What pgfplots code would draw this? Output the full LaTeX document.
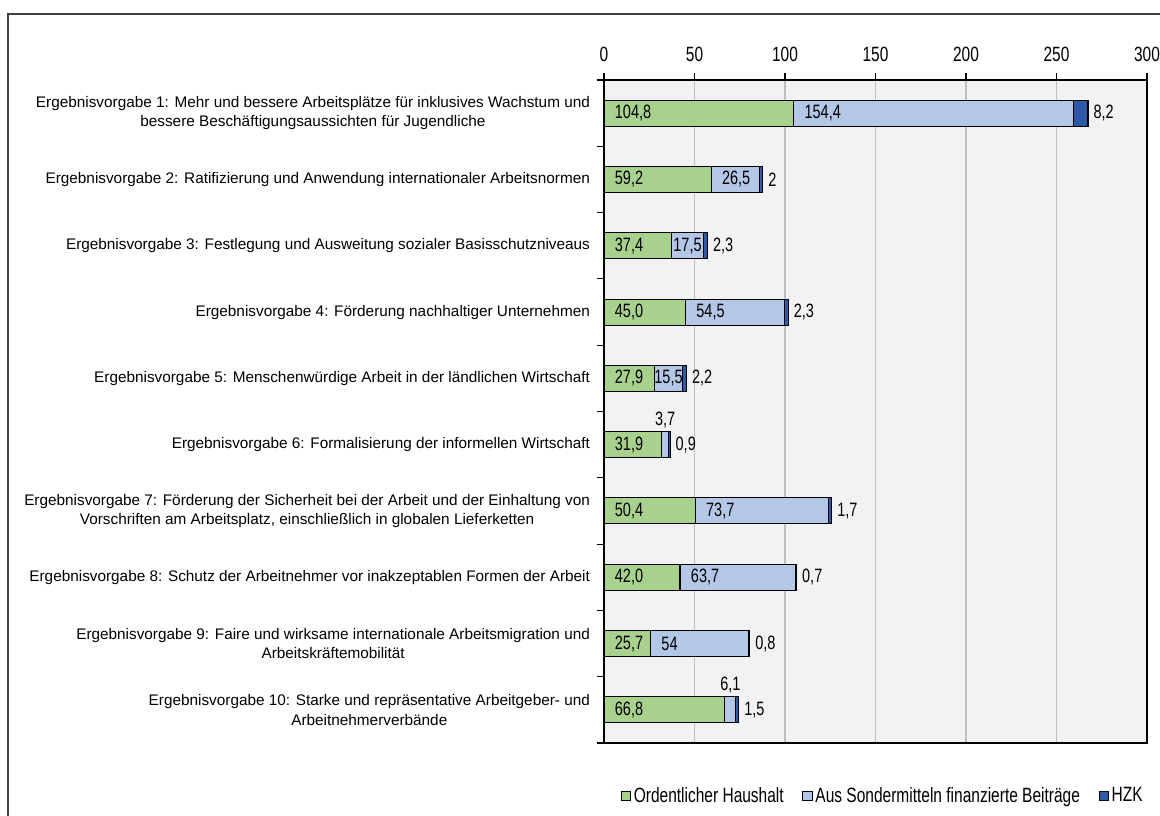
\documentclass[border=0pt]{standalone}
\usepackage{fontspec}
\setmainfont{Liberation Sans}
\newfontfamily\numfont{Liberation Sans}[FakeStretch=0.75]
\usepackage{pgfplots}
\usepackage{pgfplotstable}
\pgfplotsset{compat=1.18}

\definecolor{cGreen}{RGB}{169,209,142}
\definecolor{cLight}{RGB}{180,199,231}
\definecolor{cDark}{RGB}{46,89,166}
\definecolor{bgGray}{RGB}{242,242,242}
\definecolor{gridGray}{RGB}{191,191,191}
\definecolor{frameGray}{RGB}{64,64,64}

\newcommand{\labfont}{\fontsize{11.5}{14.5}\selectfont}
\newcommand{\valfont}{\numfont\fontsize{14.5}{17}\selectfont}
\newcommand{\legfont}{\numfont\fontsize{15.5}{18}\selectfont}

% budget by outcome: ordinary budget, extra-budgetary, HZK
\pgfplotstableread{
y gr sm hzk
1 104.8 154.4 8.2
2 59.2 26.5 2
3 37.4 17.5 2.3
4 45.0 54.5 2.3
5 27.9 15.5 2.2
6 31.9 3.7 0.9
7 50.4 73.7 1.7
8 42.0 63.7 0.7
9 25.7 54 0.8
10 66.8 6.1 1.5
}\budget

% label positions (segment starts / ends)
\pgfplotstableread{
y x lab
1 0 104,8
2 0 59,2
3 0 37,4
4 0 45,0
5 0 27,9
6 0 31,9
7 0 50,4
8 0 42,0
9 0 25,7
10 0 66,8
}\greenlab
\pgfplotstableread{
y x lab
1 104.8 154,4
2 59.2 26,5
4 45.0 54,5
7 50.4 73,7
8 42.0 63,7
9 25.7 54
}\bluelab
\pgfplotstableread{
y x lab
3 46.15 17,5
5 35.65 15,5
}\bluemid
\pgfplotstableread{
y x lab
6 33.75 3,7
10 69.85 6,1
}\blueabove
\pgfplotstableread{
y x lab
1 267.4 8,2
2 87.7 2
3 57.2 2,3
4 101.8 2,3
5 45.6 2,2
6 36.5 0,9
7 125.8 1,7
8 106.4 0,7
9 80.5 0,8
10 74.4 1,5
}\hzklab

\pgfplotsset{
    frame/.style={
        width=407.25pt, height=497.25pt, scale only axis,
        at={(453pt,54pt)}, anchor=south west,
        xmin=0, xmax=300, ymin=0.5, ymax=10.5, y dir=reverse,
    },
}

\begin{document}
\begin{tikzpicture}
\useasboundingbox (0,0) rectangle (870pt,611.25pt);
\draw[frameGray, line width=0.9pt] (6pt,-2pt) -- (6pt,600.75pt) -- (872pt,600.75pt);

\begin{axis}[
    frame,
    xbar stacked,
    bar width=19.5pt,
    axis background/.style={fill=bgGray},
    axis line style={black, line width=0.9pt},
    xtick={0,50,...,300},
    xtick pos=right, xticklabel pos=right,
    xticklabel style={font=\legfont, yshift=4.5pt},
    ytick={0.5,1.5,...,10.5},
    yticklabel=\empty,
    ytick pos=left,
    tick align=outside,
    major tick length=5.5pt,
    tick style={black, line width=0.8pt},
    xmajorgrids,
    grid style={gridGray, line width=0.8pt},
    /pgf/number format/assume math mode=true,
    legend columns=3,
    legend style={
        at={(1,0)}, anchor=north east, yshift=-29pt, xshift=2pt,
        draw=none, fill=none, font=\legfont,
        /tikz/every even column/.append style={column sep=12pt},
    },
    legend image code/.code={
        \draw[#1, draw=black, line width=0.6pt] (0pt,-3.6pt) rectangle (7.2pt,3.6pt);
    },
]
\addplot[fill=cGreen, draw=black, line width=0.8pt] table[x=gr, y=y] {\budget};
\addplot[fill=cLight, draw=black, line width=0.8pt] table[x=sm, y=y] {\budget};
\addplot[fill=cDark, draw=black, line width=0.8pt] table[x=hzk, y=y] {\budget};
\legend{Ordentlicher Haushalt, Aus Sondermitteln finanzierte Beiträge, HZK}
\end{axis}

\begin{axis}[
    frame,
    axis line style={draw=none},
    tick style={draw=none},
    xtick=\empty,
    ytick={1,...,10},
    yticklabels={
        {Ergebnisvorgabe 1: Mehr und bessere Arbeitsplätze für inklusives Wachstum und\\bessere Beschäftigungsaussichten für Jugendliche},
        {Ergebnisvorgabe 2: Ratifizierung und Anwendung internationaler Arbeitsnormen},
        {Ergebnisvorgabe 3: Festlegung und Ausweitung sozialer Basisschutzniveaus},
        {Ergebnisvorgabe 4: Förderung nachhaltiger Unternehmen},
        {Ergebnisvorgabe 5: Menschenwürdige Arbeit in der ländlichen Wirtschaft},
        {Ergebnisvorgabe 6: Formalisierung der informellen Wirtschaft},
        {Ergebnisvorgabe 7: Förderung der Sicherheit bei der Arbeit und der Einhaltung von\\Vorschriften am Arbeitsplatz, einschließlich in globalen Lieferketten},
        {Ergebnisvorgabe 8: Schutz der Arbeitnehmer vor inakzeptablen Formen der Arbeit},
        {Ergebnisvorgabe 9: Faire und wirksame internationale Arbeitsmigration und\\Arbeitskräftemobilität},
        {Ergebnisvorgabe 10: Starke und repräsentative Arbeitgeber- und\\Arbeitnehmerverbände},
    },
    yticklabel style={font=\labfont, align=center, xshift=-7pt},
    nodes near coords,
    point meta=explicit symbolic,
    every node near coord/.append style={font=\valfont, inner sep=0pt},
]
\addplot[draw=none, mark=none, every node near coord/.append style={anchor=west, xshift=8pt}]
    table[x=x, y=y, meta=lab] {\greenlab};
\addplot[draw=none, mark=none, every node near coord/.append style={anchor=west, xshift=8pt}]
    table[x=x, y=y, meta=lab] {\bluelab};
\addplot[draw=none, mark=none, every node near coord/.append style={anchor=center}]
    table[x=x, y=y, meta=lab] {\bluemid};
\addplot[draw=none, mark=none, every node near coord/.append style={anchor=south, yshift=12.5pt}]
    table[x=x, y=y, meta=lab] {\blueabove};
\addplot[draw=none, mark=none, every node near coord/.append style={anchor=west, xshift=4pt}]
    table[x=x, y=y, meta=lab] {\hzklab};
\end{axis}
\end{tikzpicture}
\end{document}
